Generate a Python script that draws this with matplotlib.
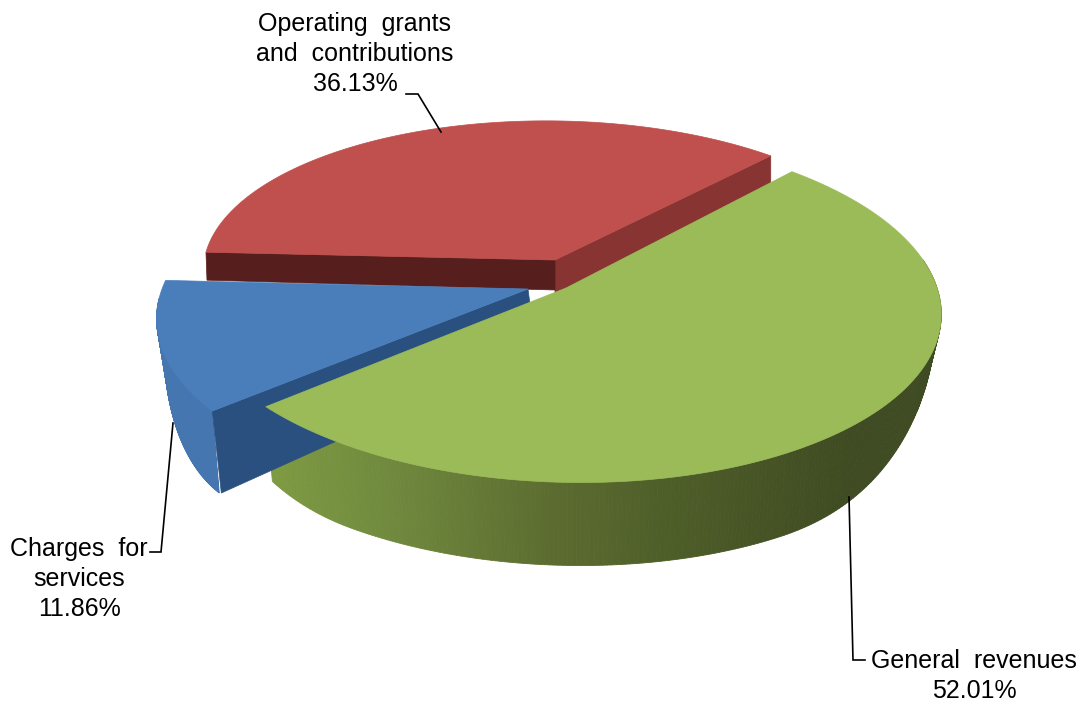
import numpy as np
import matplotlib
matplotlib.use("Agg")
import matplotlib.pyplot as plt
from matplotlib.colors import to_rgb

plt.rcParams["font.family"] = ["Liberation Sans", "DejaVu Sans"]

categories = ["General  revenues", "Operating  grants\nand  contributions", "Charges  for\nservices"]
shares = [52.01, 36.13, 11.86]

# pie geometry in pixels
START = 47.0
GREEN = dict(c=(566, 288), rx=373, ry=173, k=0.11, off=2.0, tilt=7, d0=0.1, d1=0.85, t0=28, t1=83)
RED = dict(c=(555, 260), rx=350, ry=153, k=0.10, off=1.5, tilt=4)
BLUE = dict(c=(528, 289), rx=366, ry=170, k=0.17, off=0, tilt=0, d0=0.0, d1=0.64, t0=28, t1=82)

green_side_x = [264, 373, 553, 660, 850]
green_side_col = ["#7f9b42", "#728c3f", "#5c6c30", "#4f5f29", "#3f4b22"]


def rim(part, theta):
    t = np.radians(theta)
    d = 1 + part["k"] * np.sin(t)
    x = part["rx"] * np.cos(t) / d
    y = part["c"][1] - part["ry"] * np.sin(t) / d + part["tilt"] * x / part["rx"]
    return part["c"][0] + x, y


def depth(part, theta):
    s = np.clip(-np.sin(np.radians(theta)), 0, 1)
    s = np.clip((s - part["d0"]) / (part["d1"] - part["d0"]), 0, 1)
    return part["t0"] + (part["t1"] - part["t0"]) * s * s * (3 - 2 * s)


def green_col(v):
    rgb = np.array([to_rgb(c) for c in green_side_col])
    return tuple(np.interp(v, green_side_x, rgb[:, i]) for i in range(3))


def slice_poly(part, a0, a1):
    th = np.linspace(a0, a1, 200)
    x, y = rim(part, th)
    return np.r_[part["c"][0], x], np.r_[part["c"][1], y]


def side_strip(ax, part, a0, a1, color_fn, lean=0.022):
    th = np.linspace(a0, a1, 240)
    x, y = rim(part, th)
    xb = x - (x - part["c"][0]) * lean
    yb = y + depth(part, th)
    for i in range(len(th) - 1):
        c = color_fn((x[i] + x[i + 1]) / 2)
        ax.fill([x[i], x[i + 1], xb[i + 1], xb[i]], [y[i], y[i + 1], yb[i + 1], yb[i]],
                color=c, lw=0.6, zorder=2)


fig = plt.figure(figsize=(10.81, 7.03), dpi=100)
ax = fig.add_axes([0, 0, 1, 1])
ax.set_xlim(0, 1081)
ax.set_ylim(703, 0)
ax.axis("off")

spans = [v / 100 * 360 for v in shares]
red_a0, red_a1 = START + RED["off"], START + RED["off"] + spans[1]
blue_a0, blue_a1 = START + spans[1], START + spans[1] + spans[2]
green_a0, green_a1 = blue_a1 + GREEN["off"], blue_a1 + GREEN["off"] + spans[0]

# red piece, back
rx0, ry0 = rim(RED, red_a0)
rx1, ry1 = rim(RED, red_a1)
cx, cy = RED["c"]
ax.fill([cx, rx0, rx0, cx], [cy, ry0, ry0 + 30, cy + 38], color="#873432", lw=0.5, zorder=1)
ax.fill([cx, rx1, rx1 + 1, cx], [cy, ry1, ry1 + 28, cy + 30], color="#561e1c", lw=0.5, zorder=1)
x, y = slice_poly(RED, red_a0, red_a1)
ax.fill(x, y, color="#bf504d", lw=0.5, zorder=1.5)

# blue piece
bx1, by1 = rim(BLUE, blue_a1)
cx, cy = BLUE["c"]
side_strip(ax, BLUE, blue_a0 + 6, blue_a1, lambda v: "#4676b0")
ax.fill([cx, bx1, bx1 + 9, cx + 8], [cy, by1, by1 + depth(BLUE, blue_a1), cy + 62], color="#2a5080", lw=0.5, zorder=2.2)
x, y = slice_poly(BLUE, blue_a0, blue_a1)
ax.fill(x, y, color="#4a7ebb", lw=0.5, zorder=2.5)

# green piece, front
side_strip(ax, GREEN, green_a0, 360 + 12, green_col)
x, y = slice_poly(GREEN, green_a0, green_a1)
ax.fill(x, y, color="#9bbb59", lw=0.5, zorder=3)

# leader lines
line_kw = dict(color="black", lw=1.2, zorder=4, solid_joinstyle="miter")
ax.plot([441, 418, 406], [132, 94, 94], **line_kw)
ax.plot([173, 161, 150], [423, 552, 552], **line_kw)
ax.plot([849, 853, 865], [497, 660, 660], **line_kw)

# labels
fs = 18
lab_kw = dict(ha="center", va="center", fontsize=fs, linespacing=1.3, color="black")
ax.text(355, 54, f"{categories[1]}\n{shares[1]:.2f}%", **lab_kw)
ax.text(79, 579, f"{categories[2]}\n{shares[2]:.2f}%", **lab_kw)
ax.text(974, 676, f"{categories[0]}\n{shares[0]:.2f}%", **lab_kw)

fig.savefig("out.png", dpi=100)
